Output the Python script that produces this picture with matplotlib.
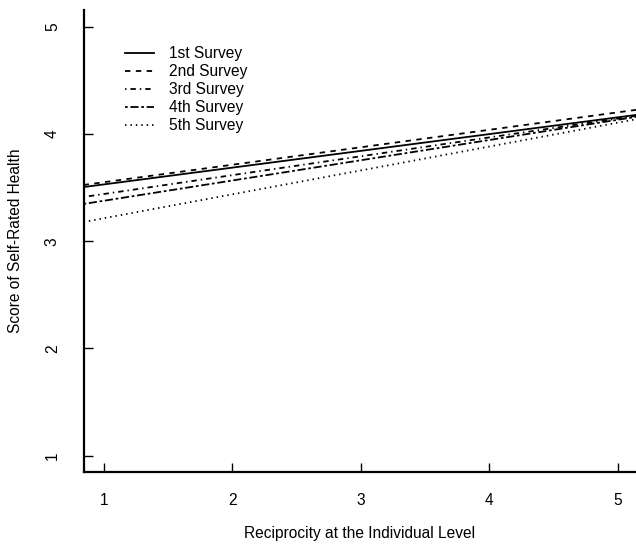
import numpy as np
import matplotlib
matplotlib.use("Agg")
import matplotlib.pyplot as plt

plt.rcParams['font.family'] = ['Liberation Sans', 'DejaVu Sans']

# fitted lines: score = intercept + slope * reciprocity
surveys = ["1st Survey", "2nd Survey", "3rd Survey", "4th Survey", "5th Survey"]
intercepts = [3.373, 3.387, 3.264, 3.188, 2.991]
slopes = [0.1565, 0.163, 0.176, 0.189, 0.223]

x_ticks = [1, 2, 3, 4, 5]
y_ticks = [1, 2, 3, 4, 5]

# R-like line types: solid, dashed, dotdash, twodash, dotted
dash_styles = [None, (3, 3), (0.8, 2.2, 3, 2.2), (1.5, 1.5, 4.5, 1.5), (0.8, 2.2)]

fs = 11.2

fig = plt.figure(figsize=(6.36, 5.44), dpi=100)
ax = fig.add_axes([0.1313, 0.1324, 0.8687, 0.8492])

xlo, xhi = 0.843, 5.14
xs = np.array([xlo, xhi])
for name, a, b, ds in zip(surveys, intercepts, slopes, dash_styles):
    line, = ax.plot(xs, a + b * xs, color="black", lw=1.3, label=name)
    if ds is not None:
        line.set_dashes(ds)

ax.set_xlim(xlo, xhi)
ax.set_ylim(0.848, 5.156)
ax.set_xticks(x_ticks)
ax.set_yticks(y_ticks)
for s in ["top", "right"]:
    ax.spines[s].set_visible(False)
for s in ["left", "bottom"]:
    ax.spines[s].set_linewidth(1.6)
ax.tick_params(direction="in", length=6.5, width=1.0, labelsize=fs)
ax.tick_params(axis="x", pad=15)
ax.tick_params(axis="y", pad=17)
for lab in ax.get_yticklabels():
    lab.set_rotation(90)
    lab.set_va("center")

ax.set_xlabel("Reciprocity at the Individual Level", fontsize=fs, labelpad=13)
ax.set_ylabel("Score of Self-Rated Health", fontsize=fs, labelpad=16)

ax.legend(loc="upper left", bbox_to_anchor=(0.0605, 0.939), frameon=False,
          fontsize=fs, handlelength=1.9, handletextpad=0.95, labelspacing=0.2,
          borderpad=0)

fig.savefig("out.png", dpi=100)
